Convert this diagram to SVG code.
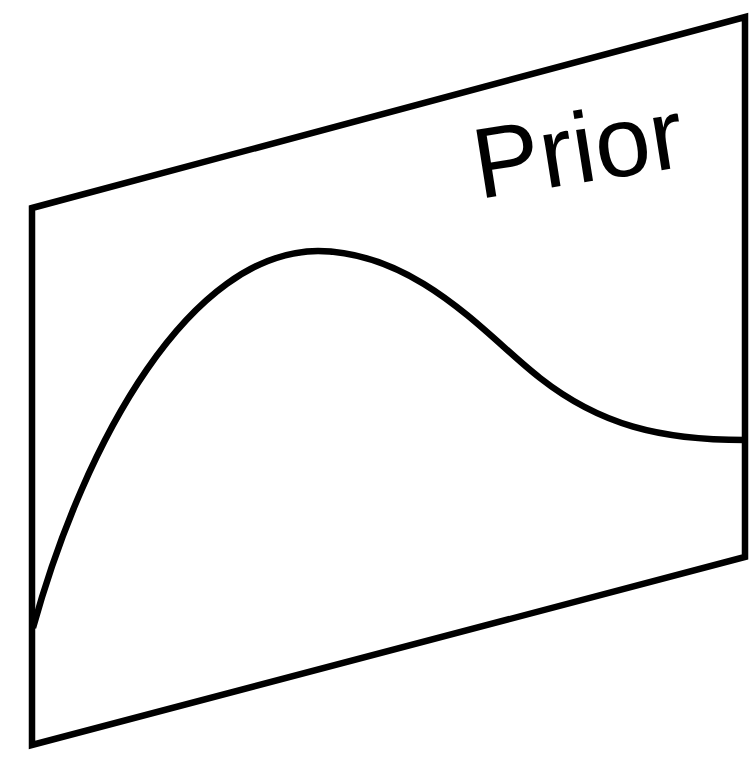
<svg xmlns="http://www.w3.org/2000/svg" width="752" height="764" viewBox="0 0 752 764">
  <style>
    .ln { fill: none; stroke: #000; stroke-width: 6.5; stroke-linejoin: miter; }
    .lbl { font-family: "Liberation Sans", Arial, sans-serif; font-size: 100px; fill: #000; }
  </style>
  <rect width="752" height="764" fill="#fff"/>
  <g id="plane">
    <polygon class="ln" points="32,208 745,17 745,557 32,745"/>
  </g>
  <g id="curve">
    <path class="ln" d="M33,628 C85,440 190,252 318,251 C420,252 490,340 540,378 C600,425 660,440 745,440"/>
  </g>
  <g id="label">
    <text class="lbl" transform="translate(479,199) rotate(-9)">Prior</text>
  </g>
</svg>
